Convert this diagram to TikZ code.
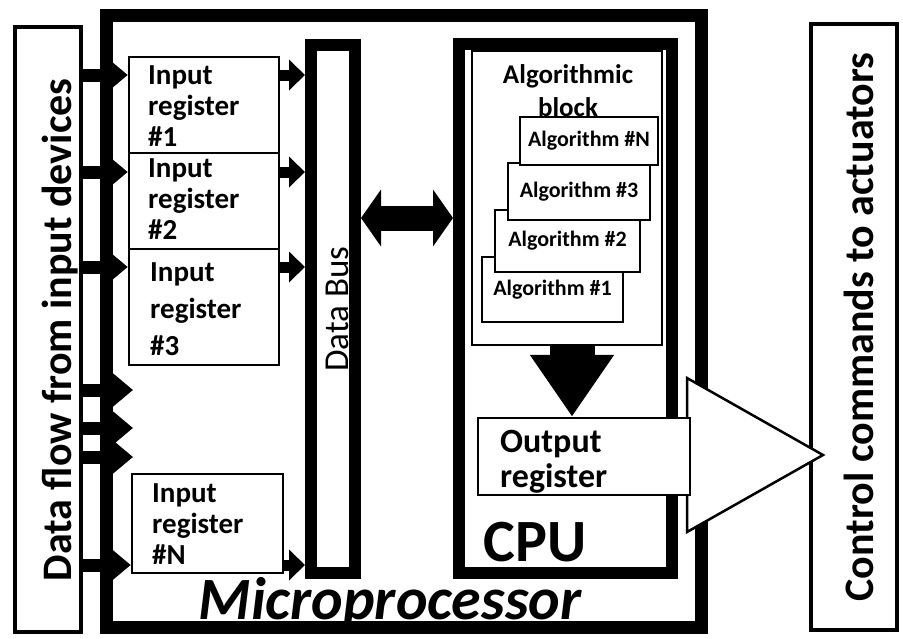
\documentclass[tikz,border=0pt]{standalone}
\usepackage{fontspec}
\setmainfont{Carlito}
\usetikzlibrary{arrows.meta}
\begin{document}
\begin{tikzpicture}[x=1pt,y=-1pt,
  every node/.style={inner sep=0pt},
  box/.style={draw, line width=2.5pt, anchor=center},
  thickbox/.style={draw, line width=12pt, anchor=center},
  algbox/.style={box, fill=white, font=\fontsize{22}{24}\selectfont\bfseries},
  regtxt/.style={anchor=north west, align=left, font=\fontsize{29}{31}\selectfont\bfseries},
  fat/.style={line width=13pt, -{Triangle[length=20pt,width=32pt]}},
  busar/.style={line width=11pt, -{Triangle[length=16pt,width=30pt]}}]
\useasboundingbox (0,0) rectangle (903,638);
\fill[white] (0,0) rectangle (903,638);

% outer boxes
\node[box, line width=3.5pt, minimum width=66, minimum height=605] (left) at (48,329.5) {};
\node[box, line width=3.5pt, minimum width=86, minimum height=606] (right) at (854,327) {};
\node[thickbox, line width=13pt, minimum width=594.5, minimum height=612.5] (micro) at (403.75,321.25) {};
\node[thickbox, minimum width=44, minimum height=528] (bus) at (333,309) {};
\node[thickbox, minimum width=213, minimum height=529] (cpu) at (565.5,308.5) {};
\node[box, minimum width=190, minimum height=294] (algblk) at (567,198) {};

% input registers
\node[box, minimum width=150, minimum height=96] (reg1) at (204,105) {};
\node[box, minimum width=150, minimum height=96] (reg2) at (204,201) {};
\node[box, minimum width=150, minimum height=116] (reg3) at (204,307) {};
\node[box, minimum width=151, minimum height=99] (regN) at (207.5,523.5) {};

\node[regtxt] (reg1t) at (148,65) {Input\\register\\\#1};
\node[regtxt] (reg2t) at (148,158) {Input\\register\\\#2};
\node[regtxt, font=\fontsize{29}{37}\selectfont\bfseries] (reg3t) at (150,262) {Input\\register\\\#3};
\node[regtxt] (regNt) at (152,483) {Input\\register\\\#N};

% algorithmic block
\node[anchor=north, align=center, font=\fontsize{27}{33}\selectfont\bfseries] (algt) at (568,64) {Algorithmic\\block};
\node[algbox, minimum width=141, minimum height=65] (alg1) at (552.5,289.5) {Algorithm \#1};
\node[algbox, minimum width=145, minimum height=62] (alg2) at (567.5,241) {Algorithm \#2};
\node[algbox, minimum width=142, minimum height=57] (alg3) at (579,191.5) {Algorithm \#3};
\node[algbox, minimum width=138, minimum height=48] (algN) at (589,141) {Algorithm \#N};

% arrows from inputs
\coordinate (y1) at (0,75);
\coordinate (y2) at (0,172);
\coordinate (y3) at (0,267);
\coordinate (yN) at (0,565);
\coordinate (m1) at (133,390);
\coordinate (m2) at (133,428);
\coordinate (m3) at (133,457);
\draw[fat] (left.east |- y1) -- (reg1.west |- y1);
\draw[fat] (left.east |- y2) -- (reg2.west |- y2);
\draw[fat] (left.east |- y3) -- (reg3.west |- y3);
\draw[fat] (left.east |- m1) -- (m1);
\draw[fat] (left.east |- m2) -- (m2);
\draw[fat] (left.east |- m3) -- (m3);
\draw[fat] (left.east |- yN) -- (regN.west |- yN);

\draw[busar] (reg1.east |- y1) -- (bus.west |- y1);
\draw[busar] (reg2.east |- y2) -- (bus.west |- y2);
\draw[busar] (reg3.east |- y3) -- (bus.west |- y3);
\draw[busar] (regN.east |- yN) -- (bus.west |- yN);

% bus <-> cpu
\coordinate (yd) at (0,218);
\draw[line width=25pt, {Triangle[length=20pt,width=56pt]}-{Triangle[length=20pt,width=56pt]}] (bus.east |- yd) -- (cpu.west |- yd);

% output triangle
\coordinate (ta) at (687,378);
\coordinate (tt) at (823,455);
\coordinate (tb) at (687,532);
\draw[line width=2.5pt, fill=white] (ta) -- (tt) -- (tb) -- cycle;

\node[box, fill=white, minimum width=212, minimum height=77] (outreg) at (584,456.5) {};
\node[anchor=north west, align=left, font=\fontsize{34}{35}\selectfont\bfseries] (outt) at (500,430) {Output\\register};

% down arrow
\coordinate (xd) at (572,0);
\draw[line width=45pt, -{Triangle[length=62pt,width=80pt]}] (algblk.south -| xd) -- (outreg.north -| xd);

% labels
\node[rotate=90, anchor=base, font=\fontsize{42}{44}\selectfont\bfseries] (leftt) at (71,330) {Data flow from input devices};
\node[rotate=90, anchor=base, font=\fontsize{42}{44}\selectfont\bfseries] (rightt) at (873,327) {Control commands to actuators};
\node[rotate=90, anchor=base, font=\fontsize{35}{37}\selectfont] (bust) at (348,309) {Data Bus};
\node[anchor=base, font=\fontsize{60}{62}\selectfont\bfseries\itshape] (microt) at (390,619) {Microprocessor};
\node[anchor=base, font=\fontsize{60}{62}\selectfont\bfseries] (cput) at (535,561) {CPU};
\end{tikzpicture}
\end{document}
